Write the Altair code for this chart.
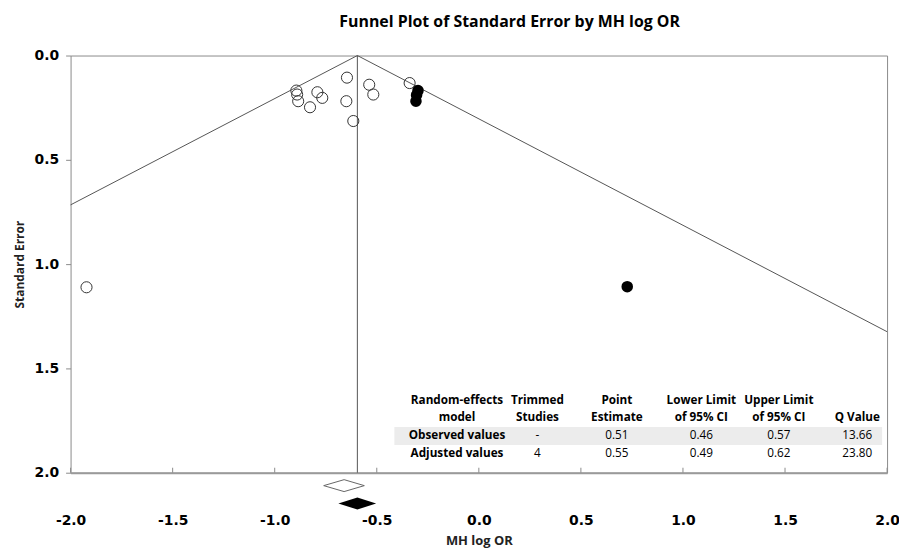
import altair as alt
import pandas as pd

# ---------------- data ----------------
obs_logor = [-0.894, -0.890, -0.885, -0.827, -0.791, -0.767, -0.646, -0.649,
             -0.615, -0.537, -0.517, -0.339, -1.922]
obs_se = [0.168, 0.187, 0.219, 0.248, 0.176, 0.203, 0.106, 0.219,
          0.314, 0.140, 0.187, 0.132, 1.111]
trim_logor = [-0.298, -0.305, -0.308, 0.727]
trim_se = [0.168, 0.190, 0.219, 1.108]

adj_estimate = -0.595
funnel_logor = [-2.0, -0.595, 2.0]
funnel_se = [0.716, 0.0, 1.324]

# diamonds: [lower, estimate, upper] in log OR
obs_diamond = [-0.760, -0.660, -0.561]
adj_diamond = [-0.688, -0.595, -0.503]

x_ticks = [-2.0, -1.5, -1.0, -0.5, 0.0, 0.5, 1.0, 1.5, 2.0]
y_ticks = [0.0, 0.5, 1.0, 1.5, 2.0]

table_header1 = ["Random-effects", "Trimmed", "Point", "Lower Limit", "Upper Limit", ""]
table_header2 = ["model", "Studies", "Estimate", "of 95% CI", "of 95% CI", "Q Value"]
row_observed = ["Observed values", "-", "0.51", "0.46", "0.57", "13.66"]
row_adjusted = ["Adjusted values", "4", "0.55", "0.49", "0.62", "23.80"]

title_text = "Funnel Plot of Standard Error by MH log OR"

# ---------------- style ----------------
W, H = 822, 420
PX_PER_SE = H / 2.0
PX_PER_X = W / 4.0
GRID = "#555555"
TFONT = "Open Sans"
NFONT = "DejaVu Sans"
LABEL_EXPR = "replace(format(datum.value, '.1f'), '\u2212', '-')"

x_scale = alt.Scale(domain=[-2, 2], nice=False, zero=False)
y_scale = alt.Scale(domain=[0, 2], reverse=True, nice=False, zero=False)

x_axis = alt.Axis(values=x_ticks, labelExpr=LABEL_EXPR, title="MH log OR",
                  labelFont=NFONT, labelFontWeight="bold", labelFontSize=14,
                  labelColor="black", tickSize=0, labelPadding=41,
                  domain=True, domainColor="#9a9a9a", domainWidth=2,
                  grid=False, titleFont=TFONT, titleFontSize=13,
                  titleFontWeight="bold", titleColor="#222", titlePadding=7,
                  labelFlush=False, labelBound=False, labelOverlap=False)
y_axis = alt.Axis(values=y_ticks, labelExpr=LABEL_EXPR, title="Standard Error",
                  labelFont=NFONT, labelFontWeight="bold", labelFontSize=14,
                  labelColor="black", tickSize=5, tickColor="#8a8a8a",
                  labelPadding=7, domain=False, grid=False,
                  titleFont=TFONT, titleFontSize=12, titleFontWeight="bold",
                  titleColor="#222", titlePadding=8,
                  labelFlush=False, labelOverlap=False)


def X(f):
    return alt.X(f, scale=x_scale, axis=x_axis)


def Y(f):
    return alt.Y(f, scale=y_scale, axis=y_axis)


obs_df = pd.DataFrame({"x": obs_logor, "se": obs_se})
trim_df = pd.DataFrame({"x": trim_logor, "se": trim_se})
funnel_df = pd.DataFrame({"x": funnel_logor, "se": funnel_se})
est_df = pd.DataFrame({"x": [adj_estimate], "se": [0.0], "se1": [2.0]})
tick_df = pd.DataFrame({"x": x_ticks})

# table band
band = alt.Chart(pd.DataFrame({"a": [0]})).mark_rect(color="#ececec").encode(
    x=alt.value(326), x2=alt.value(817), y=alt.value(374), y2=alt.value(392))

funnel = alt.Chart(funnel_df).mark_line(color=GRID, strokeWidth=1).encode(
    x=X("x:Q"), y=Y("se:Q"))

vline = alt.Chart(est_df).mark_rule(color=GRID, strokeWidth=1).encode(
    x=X("x:Q"), y=Y("se:Q"), y2="se1:Q")

xticks = alt.Chart(tick_df).mark_rule(color="#8a8a8a", strokeWidth=1).encode(
    x=X("x:Q"), y=alt.value(H), y2=alt.value(H - 5))

obs_pts = alt.Chart(obs_df).mark_point(shape="circle", filled=False, size=125,
                                       stroke="#333", strokeWidth=1, opacity=1).encode(
    x=X("x:Q"), y=Y("se:Q"))

trim_pts = alt.Chart(trim_df).mark_point(shape="circle", filled=True, size=135,
                                         color="black", opacity=1).encode(
    x=X("x:Q"), y=Y("se:Q"))


def diamond_df(vals, level_px, half_px):
    c = 2.0 + level_px / PX_PER_SE
    h = half_px / PX_PER_SE
    return pd.DataFrame({"x": vals, "se": [c, c - h, c], "y2": [c, c + h, c]})


dia_obs = alt.Chart(diamond_df(obs_diamond, 13, 6)).mark_area(
    fill="white", stroke="#666", strokeWidth=1, clip=False, opacity=1).encode(
    x=X("x:Q"), y=Y("se:Q"), y2="y2:Q")

dia_adj = alt.Chart(diamond_df(adj_diamond, 31, 6)).mark_area(
    color="black", clip=False, opacity=1).encode(
    x=X("x:Q"), y=Y("se:Q"), y2="y2:Q")

# table text (placed in plot coordinates)
col_px = [389, 470, 550, 635, 713, 792]
row_px = [347, 364, 382, 400]
rows = []
for r, (cells, kind) in enumerate([(table_header1, "h"), (table_header2, "h"),
                                    (row_observed, "v"), (row_adjusted, "v")]):
    for c, t in enumerate(cells):
        if t == "":
            continue
        bold = kind == "h" or c == 0
        rows.append({"t": t, "x": -2.0 + col_px[c] / PX_PER_X,
                     "se": row_px[r] / PX_PER_SE,
                     "w": "bold" if bold else "normal"})
tbl = pd.DataFrame(rows)

tbl_bold = alt.Chart(tbl[tbl.w == "bold"]).mark_text(
    font=TFONT, fontSize=11.8, fontWeight="bold", color="black",
    align="center", baseline="middle").encode(
    x=X("x:Q"), y=Y("se:Q"), text="t:N")
tbl_norm = alt.Chart(tbl[tbl.w == "normal"]).mark_text(
    font=TFONT, fontSize=11.8, color="black",
    align="center", baseline="middle").encode(
    x=X("x:Q"), y=Y("se:Q"), text="t:N")

title = alt.Chart(pd.DataFrame({"t": [title_text]})).mark_text(
    font=TFONT, fontSize=16, fontWeight="bold", color="black",
    align="center", baseline="middle").encode(
    x=alt.value(442), y=alt.value(-34), text="t:N")

chart = alt.layer(band, funnel, vline, xticks, obs_pts, trim_pts, dia_obs,
                  dia_adj, tbl_bold, tbl_norm, title).properties(
    width=W, height=H,
    autosize=alt.AutoSizeParams(type="none"),
    padding={"left": 63, "top": 46, "right": 12, "bottom": 82},
).configure_view(stroke="#8a8a8a", strokeWidth=1)

chart.save("out.html", embed_options={"renderer": "svg", "actions": False})
